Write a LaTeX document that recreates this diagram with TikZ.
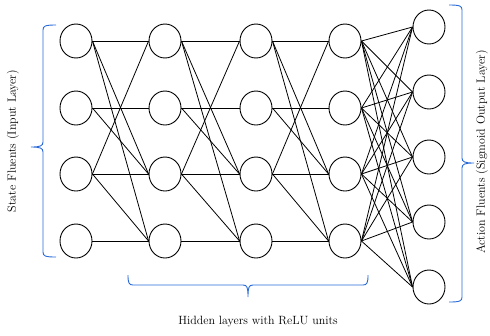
\documentclass[tikz,border=0pt]{standalone}
\usetikzlibrary{shapes.geometric}
\begin{document}
\begin{tikzpicture}[x=1bp,y=-1bp,
  neuron/.style={draw=black,ellipse,line width=0.9bp,minimum width=32bp,minimum height=34bp,inner sep=0pt},
  conn/.style={draw=black,line width=0.8bp},
  bracecol/.style={draw={rgb,255:red,40;green,105;blue,215},line width=0.9bp},
  lbl/.style={font=\fontsize{12}{14}\selectfont,inner sep=0pt}]
\useasboundingbox (0,0) rectangle (490,335);
% hidden/input columns
\foreach \c/\x in {1/76,2/165,3/256,4/345}{
  \foreach \r/\y in {1/41,2/108,3/174,4/241}{
    \node[neuron] (n\c\r) at (\x,\y) {};
  }
}
% output column
\foreach \r/\y in {1/27,2/92,3/157,4/222,5/287}{
  \node[neuron] (o\r) at (429,\y) {};
}
% sparse connections between first four columns
\foreach \a/\b in {1/2,2/3,3/4}{
  \foreach \s/\t in {1/1,1/3,1/4,2/2,2/3,3/1,3/3,3/4,4/4}{
    \draw[conn] (n\a\s.east) -- (n\b\t.west);
  }
}
% full connections to output
\foreach \s in {1,2,3,4}{
  \foreach \t in {1,2,3,4,5}{
    \draw[conn] (n4\s.east) -- (o\t.west);
  }
}
% braces
\draw[bracecol] (56,25) .. controls (45,25) and (43,26) .. (43,30) -- (43,142)
  .. controls (43,146) and (40,147) .. (31,147)
  .. controls (40,147) and (43,148) .. (43,152) -- (43,252)
  .. controls (43,256) and (45,257) .. (56,257);
\draw[bracecol] (449,5) .. controls (460,5) and (462,6) .. (462,10) -- (462,158)
  .. controls (462,162) and (465,163) .. (474,163)
  .. controls (465,163) and (462,164) .. (462,168) -- (462,297)
  .. controls (462,301) and (460,302) .. (449,302);
\draw[bracecol] (128,275) .. controls (128,283) and (129,285) .. (133,285) -- (243,285)
  .. controls (247,285) and (248,287) .. (248,297)
  .. controls (248,287) and (249,285) .. (253,285) -- (363,285)
  .. controls (367,285) and (368,283) .. (368,275);
% labels
\node[lbl,rotate=90] (lin) at (13,141) {State Fluents (Input Layer)};
\node[lbl,rotate=90] (lout) at (482,152) {Action Fluents (Sigmoid Output Layer)};
\node[lbl] (lhid) at (258,322) {Hidden layers with ReLU units};
\end{tikzpicture}
\end{document}
